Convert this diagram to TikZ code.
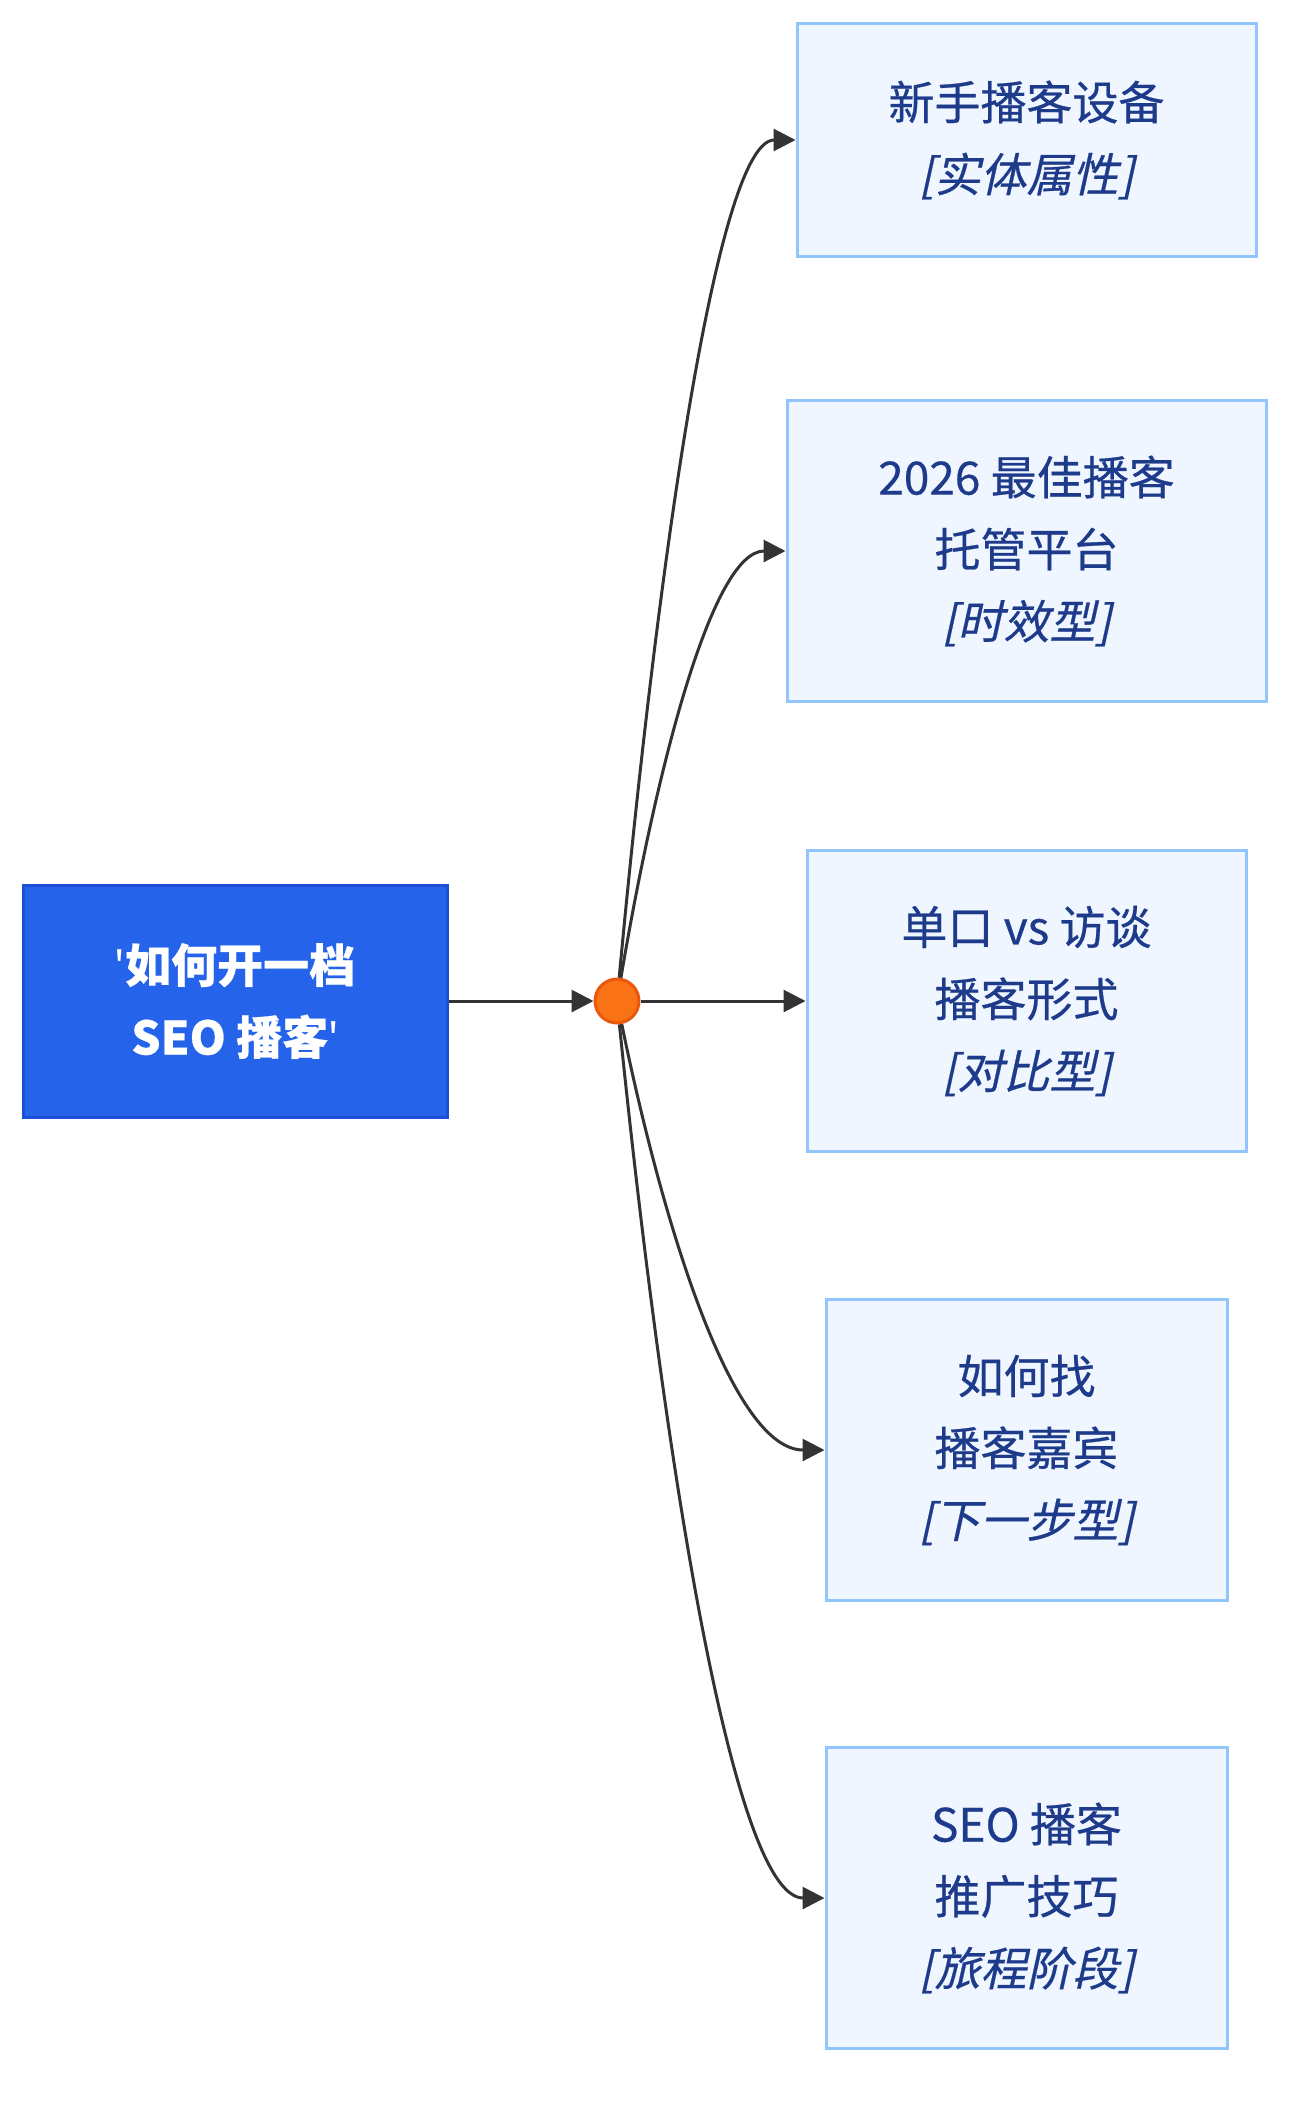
\documentclass[tikz,border=0pt]{standalone}
\usepackage{fontspec}
\setmainfont{Noto Sans CJK SC}[FakeBold=0.5]
\newfontfamily\cjkit{Noto Sans CJK SC}[FakeSlant=0.22,FakeBold=0.5]
\newfontfamily\latinf{Noto Sans}
\newcommand{\apos}{{\latinf\symbol{39}}}
\usetikzlibrary{arrows.meta}
\definecolor{rootfill}{HTML}{2563EB}
\definecolor{rootdraw}{HTML}{1D4ED8}
\definecolor{boxfill}{HTML}{EFF6FF}
\definecolor{boxdraw}{HTML}{93C5FD}
\definecolor{boxtext}{HTML}{1E3A8A}
\definecolor{junfill}{HTML}{F97316}
\definecolor{jundraw}{HTML}{EA580C}
\definecolor{edgecol}{HTML}{333333}
\tikzset{
  leafbox/.style={draw=boxdraw, fill=boxfill, line width=3pt, text=boxtext,
    align=center, inner sep=0pt, font=\fontsize{46}{72}\selectfont},
  rootbox/.style={draw=rootdraw, fill=rootfill, line width=3pt, text=white,
    align=center, inner sep=0pt, font=\fontsize{46}{72}\selectfont\bfseries},
  junction/.style={circle, draw=jundraw, fill=junfill, line width=3pt,
    minimum size=44pt, inner sep=0pt},
  edge/.style={draw=edgecol, line width=3pt,
    -{Triangle[length=22pt,width=22pt]}}
}
\begin{document}
\begin{tikzpicture}[x=1pt,y=-1pt]
\useasboundingbox (0,0) rectangle (1314,2106);
\node[rootbox, minimum width=424pt, minimum height=232pt] (root) at (235,1001)
  {\apos 如何开一档\\SEO 播客\apos};
\node[leafbox, minimum width=459pt, minimum height=232pt] (b1) at (1026.5,140)
  {新手播客设备\\{\cjkit [实体属性]}};
\node[leafbox, minimum width=479pt, minimum height=301pt] (b2) at (1026.5,551)
  {2026 最佳播客\\托管平台\\{\cjkit [时效型]}};
\node[leafbox, minimum width=439pt, minimum height=301pt] (b3) at (1026.5,1001)
  {单口 vs 访谈\\播客形式\\{\cjkit [对比型]}};
\node[leafbox, minimum width=401pt, minimum height=301pt] (b4) at (1026.5,1450)
  {如何找\\播客嘉宾\\{\cjkit [下一步型]}};
\node[leafbox, minimum width=401pt, minimum height=301pt] (b5) at (1026.5,1898)
  {SEO 播客\\推广技巧\\{\cjkit [旅程阶段]}};
\node[junction] (j) at (617,1001) {};
\draw[edge] (root.east) -- (j.west);
\draw[edge] (j) .. controls (657,571) and (717,140) .. (b1.west);
\draw[edge] (j) .. controls (655,776) and (711,551) .. (b2.west);
\draw[edge] (j) -- (b3.west);
\draw[edge] (j) .. controls (663,1225) and (732,1450) .. (b4.west);
\draw[edge] (j) .. controls (663,1450) and (732,1898) .. (b5.west);
\end{tikzpicture}
\end{document}
